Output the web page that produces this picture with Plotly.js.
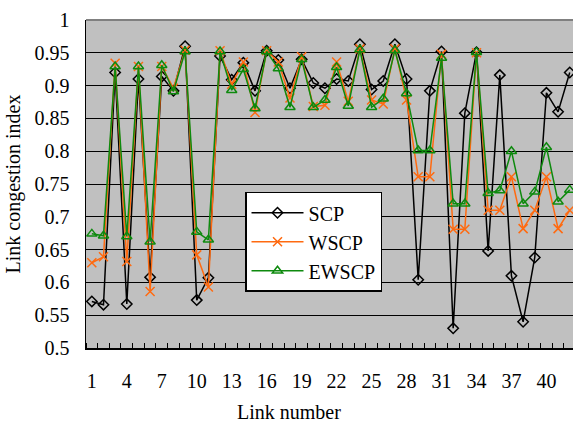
<!DOCTYPE html>
<html>
<head>
<meta charset="utf-8">
<script src="https://cdn.plot.ly/plotly-3.0.1.min.js"></script>
<style>html,body{margin:0;padding:0;background:#fff;}#chart{width:573px;height:427px;}</style>
</head>
<body>
<div id="chart"></div>
<script>
var links = [];
for (var i = 1; i <= 42; i++) links.push(i);

var scp = [0.571,0.566,0.920,0.567,0.910,0.608,0.914,0.892,0.960,0.573,0.607,0.945,0.909,0.935,0.892,0.953,0.939,0.896,0.940,0.904,0.896,0.910,0.907,0.963,0.894,0.907,0.963,0.910,0.604,0.892,0.952,0.530,0.858,0.951,0.648,0.916,0.610,0.540,0.638,0.889,0.860,0.920];
var wscp = [0.630,0.639,0.934,0.632,0.929,0.586,0.929,0.896,0.954,0.642,0.593,0.953,0.902,0.936,0.859,0.953,0.936,0.881,0.944,0.868,0.870,0.936,0.876,0.956,0.878,0.872,0.956,0.878,0.761,0.761,0.948,0.681,0.681,0.950,0.710,0.710,0.761,0.682,0.710,0.761,0.682,0.710];
var ewscp = [0.674,0.671,0.929,0.670,0.929,0.662,0.931,0.891,0.952,0.677,0.665,0.952,0.893,0.925,0.865,0.952,0.926,0.867,0.940,0.867,0.878,0.928,0.869,0.955,0.867,0.880,0.954,0.888,0.801,0.801,0.942,0.720,0.720,0.951,0.736,0.740,0.800,0.720,0.738,0.806,0.723,0.741];

var xTickVals = [1,4,7,10,13,16,19,22,25,28,31,34,37,40];
var xTickText = ["1","4","7","10","13","16","19","22","25","28","31","34","37","40"];
var yTickVals = [0.5,0.55,0.6,0.65,0.7,0.75,0.8,0.85,0.9,0.95,1];
var yTickText = ["0.5","0.55","0.6","0.65","0.7","0.75","0.8","0.85","0.9","0.95","1"];

var FONT = "Liberation Serif, Times New Roman, serif";

var traces = [
  {x: links, y: scp, name: "SCP", type: "scatter", mode: "lines+markers",
   line: {color: "#000000", width: 1.5},
   marker: {symbol: "diamond-open", size: 8, color: "#000000", line: {width: 1.5, color: "#000000"}}},
  {x: links, y: wscp, name: "WSCP", type: "scatter", mode: "lines+markers",
   line: {color: "#ff6a10", width: 1.5},
   marker: {symbol: "x-thin-open", size: 9, color: "#ff6a10", line: {width: 1.5, color: "#ff6a10"}}},
  {x: links, y: ewscp, name: "EWSCP", type: "scatter", mode: "lines+markers",
   line: {color: "#0e8a0e", width: 1.5},
   marker: {symbol: "triangle-up-open", size: 9, color: "#0e8a0e", line: {width: 1.5, color: "#0e8a0e"}}}
];

var layout = {
  width: 573, height: 427,
  margin: {l: 86, r: 0, t: 20, b: 79},
  paper_bgcolor: "#ffffff",
  plot_bgcolor: "#c0c0c0",
  font: {family: FONT, size: 20, color: "#000000"},
  showlegend: true,
  legend: {
    x: 0.3265, y: 0.4765, xanchor: "left", yanchor: "top",
    bgcolor: "#ffffff", bordercolor: "#000000", borderwidth: 1.5,
    font: {family: FONT, size: 20, color: "#000000"},
    itemwidth: 52
  },
  xaxis: {
    range: [0.5, 42.28],
    tickmode: "array", tickvals: xTickVals, ticktext: xTickText,
    ticks: "", showgrid: false, zeroline: false,
    showline: true, linecolor: "#000000", linewidth: 1.5,
    tickfont: {family: FONT, size: 20},
    ticklabelstandoff: 14,
    minor: {tick0: 0.5, dtick: 1, ticks: "inside", ticklen: 5, tickcolor: "#000000", tickwidth: 1, showgrid: false}
  },
  yaxis: {
    range: [0.5, 1],
    tickmode: "array", tickvals: yTickVals, ticktext: yTickText,
    ticks: "", showgrid: true, gridcolor: "#000000", gridwidth: 1,
    zeroline: false, showline: true, linecolor: "#000000", linewidth: 1.5,
    tickfont: {family: FONT, size: 20},
    ticklabelstandoff: 11,
    title: {text: "Link congestion index", font: {family: FONT, size: 20}, standoff: 8}
  },
  annotations: [
    {text: "Link number", xref: "paper", yref: "paper", x: 0.417, y: -0.195,
     xanchor: "center", yanchor: "middle", showarrow: false,
     font: {family: FONT, size: 20, color: "#000000"}}
  ],
  shapes: [
    {type: "line", xref: "paper", yref: "paper", x0: 0, x1: 1, y0: 1, y1: 1,
     line: {color: "#808080", width: 2}}
  ]
};

Plotly.newPlot("chart", traces, layout, {displayModeBar: false, staticPlot: true});
</script>
</body>
</html>
